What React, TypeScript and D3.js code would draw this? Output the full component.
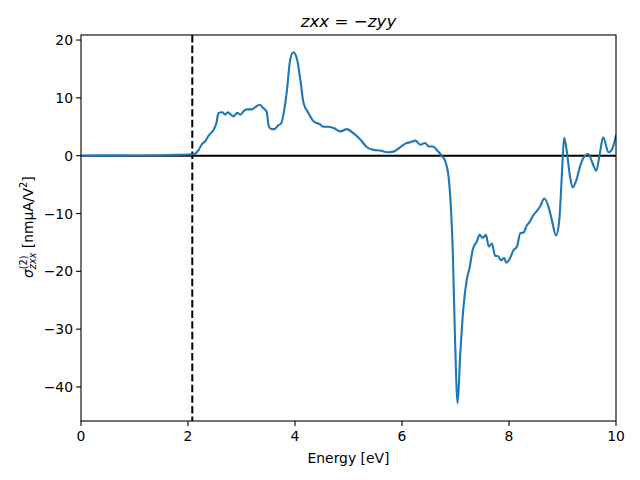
import React from "react";
import * as d3 from "d3";

const energy = [
  0, 0.5, 1.0, 1.5, 1.8, 2.0, 2.1, 2.14, 2.2, 2.26, 2.32, 2.39, 2.48, 2.53, 2.57, 2.64, 2.70, 2.74, 2.79, 2.85,
  2.92, 2.98, 3.04, 3.10, 3.20, 3.26, 3.34, 3.40, 3.47, 3.51, 3.56, 3.62, 3.68, 3.74, 3.79, 3.85,
  3.91, 3.97, 4.04, 4.10, 4.16, 4.25, 4.35, 4.47, 4.53, 4.62, 4.72, 4.85, 4.97, 5.09, 5.22, 5.34,
  5.47, 5.59, 5.72, 5.84, 5.97, 6.09, 6.15, 6.25, 6.34, 6.43, 6.50, 6.58, 6.65, 6.75, 6.81, 6.87,
  6.91, 6.95, 6.99, 7.04, 7.09, 7.15, 7.21, 7.27, 7.32, 7.40, 7.45, 7.51, 7.57, 7.62, 7.68, 7.74,
  7.80, 7.85, 7.91, 7.95, 8.02, 8.08, 8.15, 8.21, 8.27, 8.33, 8.39, 8.46, 8.52, 8.58, 8.66, 8.74,
  8.80, 8.88, 8.94, 8.99, 9.03, 9.08, 9.14, 9.19, 9.26, 9.33, 9.39, 9.48, 9.55, 9.63, 9.70, 9.76,
  9.86, 9.92, 10.0,
];
const sigma = [
  0, 0.01, 0.03, 0.08, 0.14, 0.2, 0.25, 0.4, 1.0, 2.0, 2.5, 3.5, 4.5, 5.6, 7.4, 7.5, 7.1, 7.5, 7.2, 6.8,
  7.4, 7.1, 7.7, 8.0, 8.0, 8.4, 8.8, 8.3, 7.6, 5.1, 4.6, 4.6, 5.2, 5.6, 7.4, 11.4,
  16.6, 17.9, 16.6, 13.1, 9.1, 7.4, 5.9, 5.4, 5.0, 5.0, 4.8, 4.2, 4.6, 3.9, 2.8, 1.5,
  1.0, 0.9, 0.6, 0.7, 1.5, 2.2, 2.3, 2.6, 1.9, 2.2, 1.6, 1.6, 1.0, -0.1, -1.0, -3.6,
  -8.2, -16.8, -31.3, -42.8, -34.1, -26.1, -21.5, -19.1, -16.3, -14.8, -13.7, -14.2, -13.7, -15.7, -15.2, -17.3,
  -17.4, -18.1, -17.7, -18.5, -17.7, -16.4, -15.7, -13.4, -13.3, -12.1, -11.4, -10.2, -9.6, -8.8, -7.4, -8.9,
  -11.1, -13.8, -11.1, -3.0, 3.1, 0.8, -3.6, -5.5, -4.2, -1.8, -0.4, 0.3, -1.0, -2.6, 0.5, 3.2,
  0.6, 1.0, 3.5,
];
const xTicks = [0, 2, 4, 6, 8, 10];
const yTicks = [-40, -30, -20, -10, 0, 10, 20];
const gapEnergy = 2.08;

export default function App() {
  const L = 81, R = 616, T = 35, B = 421;
  const x = d3.scaleLinear().domain([0, 10]).range([L, R]);
  const y = d3.scaleLinear().domain([-45.88, 20.87]).range([B, T]);
  const pts: [number, number][] = energy.map((e, i) => [e, sigma[i]]);
  const line = d3
    .line<[number, number]>()
    .x((d) => x(d[0]))
    .y((d) => y(d[1]))
    .curve(d3.curveMonotoneX);
  const font = "DejaVu Sans, sans-serif";
  return (
    <svg
      width={640}
      height={480}
      style={{ position: "absolute", left: 0, top: 0, background: "#fff" }}
      fontFamily={font}
    >
      <rect x={0} y={0} width={640} height={480} fill="#fff" />
      <defs>
        <clipPath id="plotclip">
          <rect x={L} y={T} width={R - L} height={B - T} />
        </clipPath>
      </defs>
      <g clipPath="url(#plotclip)">
        <line x1={L} x2={R} y1={y(0)} y2={y(0)} stroke="#000" strokeWidth={2} />
        <line
          x1={x(gapEnergy)}
          x2={x(gapEnergy)}
          y1={T}
          y2={B}
          stroke="#000"
          strokeWidth={2}
          strokeDasharray="7.4,3.2"
        />
        <path d={line(pts) || ""} fill="none" stroke="#1f77b4" strokeWidth={2.1} strokeLinejoin="round" strokeLinecap="square" />
      </g>
      <rect x={L} y={T} width={R - L} height={B - T} fill="none" stroke="#000" strokeWidth={1.1} />
      {xTicks.map((t) => (
        <g key={"x" + t}>
          <line x1={x(t)} x2={x(t)} y1={B} y2={B + 4.9} stroke="#000" strokeWidth={1.1} />
          <text x={x(t)} y={B + 20} textAnchor="middle" fontSize={13.9} fill="#000">
            {t}
          </text>
        </g>
      ))}
      {yTicks.map((t) => (
        <g key={"y" + t}>
          <line x1={L - 4.9} x2={L} y1={y(t)} y2={y(t)} stroke="#000" strokeWidth={1.1} />
          <text x={L - 8} y={y(t) + 5} textAnchor="end" fontSize={13.9} fill="#000">
            {t < 0 ? "\u2212" + Math.abs(t) : t}
          </text>
        </g>
      ))}
      <text x={(L + R) / 2} y={463} textAnchor="middle" fontSize={13.9} fill="#000">
        Energy [eV]
      </text>
      <text x={(L + R) / 2} y={27} textAnchor="middle" fontSize={16.7} fill="#000" fontStyle="italic">
        zxx<tspan fontStyle="normal"> = </tspan>
        <tspan fontStyle="normal">{"\u2212"}</tspan>zyy
      </text>
      <g transform="translate(33,228) rotate(-90)">
        <text x={-50} y={0} fontSize={13.9} fill="#000">
          <tspan fontStyle="italic">σ</tspan>
          <tspan fontSize={9.7} dy={-6}>(2)</tspan>
          <tspan fontSize={9.7} fontStyle="italic" dx={-13.7} dy={9}>zxx</tspan>
          <tspan dy={-3}> [nmμA/V</tspan>
          <tspan fontSize={9.7} dy={-6}>2</tspan>
          <tspan dy={6}>]</tspan>
        </text>
      </g>
    </svg>
  );
}
